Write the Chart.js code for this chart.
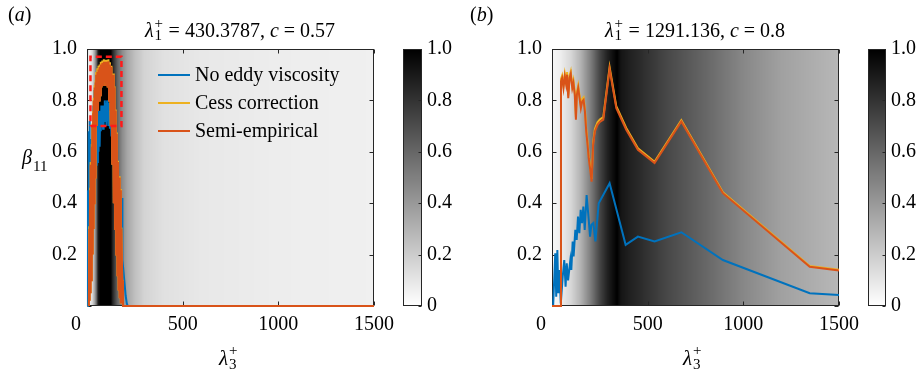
<!DOCTYPE html>
<html lang="en">
<head>
<meta charset="UTF-8">
<style>
    * { margin: 0; padding: 0; box-sizing: border-box; }
    body {
        background: #fff;
        width: 921px;
        height: 378px;
        overflow: hidden;
        position: relative;
        font-family: "Liberation Serif", Tinos, "Times New Roman", "Nimbus Roman", "DejaVu Serif", serif;
        color: #000;
    }
    canvas { position: absolute; left: 0; top: 0; }
    .txt { position: absolute; white-space: nowrap; font-size: 20px; line-height: 20px; }
    .ss { position: relative; display: inline-block; width: 10px; height: 0; }
    .ss span { position: absolute; left: 1px; font-size: 15px; line-height: 15px; font-style: normal; }
    .legend { position: absolute; left: 158px; top: 0; font-size: 20px; line-height: 20px; }
    .legend div { position: absolute; left: 0; white-space: nowrap; }
    .legend i { display: inline-block; width: 32px; height: 2px; vertical-align: middle; margin-right: 5px; position: relative; top: -1px; }
</style>
</head>
<body>
    <canvas id="chartA" width="921" height="378"></canvas>
    <canvas id="barA" width="921" height="378"></canvas>
    <canvas id="chartB" width="921" height="378"></canvas>
    <canvas id="barB" width="921" height="378"></canvas>

    <!-- titles and labels -->
    <div class="txt" style="left:8px; top:4px">(<i>a</i>)</div>
    <div class="txt" style="left:470px; top:4px">(<i>b</i>)</div>

    <div class="txt" style="left:240px; top:20px; transform:translateX(-50%)"><i>λ</i><span class="ss"><span style="top:-21px">+</span><span style="top:-9px">1</span></span> = 430.3787, <i>c</i> = 0.57</div>
    <div class="txt" style="left:695px; top:20px; transform:translateX(-50%)"><i>λ</i><span class="ss"><span style="top:-21px">+</span><span style="top:-9px">1</span></span> = 1291.136, <i>c</i> = 0.8</div>

    <div class="txt" style="left:22px; top:147px"><i>β</i><span class="ss" style="width:20px"><span style="top:-5px; left:1px">11</span></span></div>

    <div class="txt" style="left:219px; top:348px; font-size:21px"><i>λ</i><span class="ss"><span style="top:-22px">+</span><span style="top:-8px">3</span></span></div>
    <div class="txt" style="left:683px; top:348px; font-size:21px"><i>λ</i><span class="ss"><span style="top:-22px">+</span><span style="top:-8px">3</span></span></div>

    <div class="legend">
        <div style="top:64px"><i style="background:#0072BD"></i>No eddy viscosity</div>
        <div style="top:92px"><i style="background:#EDB120"></i>Cess correction</div>
        <div style="top:120px"><i style="background:#D95319"></i>Semi-empirical</div>
    </div>

    <script src="https://cdn.jsdelivr.net/npm/chart.js@4.4.1/dist/chart.umd.min.js"></script>
    <script>
        // axes
        const xTicks = [0, 500, 1000, 1500];
        const yTicks = [0, 0.2, 0.4, 0.6, 0.8, 1.0];
        const yLabels = ['', '0.2', '0.4', '0.6', '0.8', '1.0'];
        const cbTicks = [0, 0.2, 0.4, 0.6, 0.8, 1.0];
        const cbLabels = ['0', '0.2', '0.4', '0.6', '0.8', '1.0'];

        // panel (a): λ1+ = 430.3787, c = 0.57
        const aBlueLam = [3, 5, 7, 9, 11, 13, 15, 17, 19, 21, 24, 27, 30, 33, 36, 39, 42, 45, 48, 51, 54, 57, 60, 63, 66, 69, 72, 75, 78, 81, 84, 87, 90, 93, 96, 99, 102, 105, 108, 111, 114, 117, 120, 124, 128, 132, 136, 140, 144, 148, 152, 156, 160, 164, 168, 172, 176, 180, 183, 185, 190, 196, 202, 208, 213, 1500];
        const aBlue = [0, 0.45, 0.15, 0.68, 0.30, 0.72, 0.40, 0.60, 0.35, 0.65, 0.50, 0.70, 0.55, 0.78, 0.60, 0.84, 0.62, 0.80, 0.55, 0.62, 0.56, 0.70, 0.60, 0.76, 0.62, 0.75, 0.68, 0.78, 0.70, 0.77, 0.69, 0.78, 0.72, 0.80, 0.73, 0.79, 0.70, 0.80, 0.72, 0.79, 0.70, 0.76, 0.69, 0.74, 0.66, 0.70, 0.62, 0.64, 0.56, 0.52, 0.45, 0.38, 0.33, 0.29, 0.27, 0.25, 0.22, 0.20, 0.42, 0.18, 0.14, 0.09, 0.04, 0.01, 0, 0];
        const aLam = [10, 12, 14, 16, 18, 20, 22, 24, 26, 28, 30, 32, 34, 36, 38, 40, 42, 44, 46, 48, 51, 54, 57, 60, 63, 66, 69, 72, 76, 80, 84, 88, 92, 96, 100, 104, 108, 112, 116, 120, 124, 128, 132, 136, 140, 144, 147, 150, 153, 156, 159, 162, 165, 168, 171, 174, 177, 180, 184, 188, 1500];
        const aCess = [0, 0.31, 0.02, 0.46, 0.05, 0.56, 0.10, 0.63, 0.15, 0.71, 0.20, 0.76, 0.30, 0.81, 0.40, 0.86, 0.50, 0.88, 0.60, 0.91, 0.70, 0.925, 0.76, 0.935, 0.80, 0.94, 0.82, 0.95, 0.85, 0.955, 0.86, 0.96, 0.87, 0.958, 0.86, 0.958, 0.85, 0.96, 0.80, 0.948, 0.70, 0.935, 0.55, 0.905, 0.40, 0.855, 0.30, 0.765, 0.20, 0.675, 0.12, 0.565, 0.06, 0.505, 0.03, 0.455, 0.01, 0.305, 0.10, 0, 0];
        const aSemi = [0, 0.30, 0.02, 0.45, 0.05, 0.55, 0.10, 0.62, 0.15, 0.70, 0.20, 0.75, 0.30, 0.80, 0.40, 0.85, 0.50, 0.87, 0.60, 0.90, 0.70, 0.91, 0.76, 0.92, 0.80, 0.93, 0.82, 0.94, 0.85, 0.945, 0.86, 0.95, 0.87, 0.95, 0.86, 0.95, 0.85, 0.952, 0.80, 0.94, 0.70, 0.93, 0.55, 0.90, 0.40, 0.85, 0.30, 0.76, 0.20, 0.67, 0.12, 0.56, 0.06, 0.50, 0.03, 0.45, 0.01, 0.30, 0.10, 0, 0];
        const aBoxLam = [18, 180, 180, 18, 18];
        const aBoxBeta = [0.70, 0.70, 0.97, 0.97, 0.70];
        const aBgLam = [0, 5, 14, 28, 40, 50, 58, 70, 125, 135, 160, 185, 210, 250, 300, 400, 600, 1000, 1500];
        const aBgVal = [0.20, 0.10, 0.05, 0.15, 0.35, 0.60, 0.90, 1.00, 1.00, 0.85, 0.60, 0.45, 0.35, 0.25, 0.17, 0.12, 0.09, 0.07, 0.06];

        // panel (b): λ1+ = 1291.136, c = 0.8
        const bBlueLam = [6, 17, 22, 28, 33, 39, 46, 56, 64, 71, 77, 84, 96, 101, 108, 113, 122, 129, 136, 143, 150, 157, 164, 171, 181, 192, 199, 206, 216, 227, 244, 301, 385, 449, 536, 676, 893, 1347, 1500];
        const bBlue = [0, 0.205, 0.036, 0.218, 0.05, 0.14, 0.01, 0.114, 0.179, 0.075, 0.166, 0.10, 0.179, 0.14, 0.251, 0.193, 0.296, 0.257, 0.348, 0.283, 0.374, 0.322, 0.387, 0.296, 0.432, 0.335, 0.27, 0.316, 0.323, 0.251, 0.40, 0.478, 0.238, 0.27, 0.251, 0.287, 0.179, 0.05, 0.043];
        const bLam = [0, 20, 46, 47, 53, 60, 67, 74, 79, 85, 92, 98, 106, 112, 119, 125, 130, 137, 144, 151, 158, 165, 172, 179, 186, 192, 200, 207, 215, 224, 238, 250, 268, 301, 336, 388, 449, 536, 676, 893, 1347, 1500];
        const bCess = [0, 0, 0, 0.884, 0.897, 0.858, 0.903, 0.871, 0.91, 0.819, 0.897, 0.913, 0.858, 0.878, 0.832, 0.735, 0.832, 0.858, 0.819, 0.78, 0.806, 0.812, 0.767, 0.689, 0.637, 0.585, 0.54, 0.494, 0.637, 0.689, 0.715, 0.726, 0.735, 0.93, 0.778, 0.693, 0.614, 0.561, 0.723, 0.443, 0.156, 0.141];
        const bSemi = [0, 0, 0, 0.874, 0.887, 0.848, 0.893, 0.861, 0.90, 0.809, 0.887, 0.903, 0.848, 0.868, 0.822, 0.725, 0.822, 0.848, 0.809, 0.77, 0.796, 0.802, 0.757, 0.679, 0.627, 0.575, 0.53, 0.484, 0.627, 0.679, 0.705, 0.716, 0.725, 0.922, 0.77, 0.686, 0.608, 0.556, 0.718, 0.439, 0.153, 0.138];
        const bBgLam = [0, 40, 100, 150, 200, 250, 290, 320, 340, 360, 400, 500, 600, 800, 1000, 1200, 1500];
        const bBgVal = [0.03, 0.06, 0.16, 0.30, 0.50, 0.73, 0.87, 0.95, 1.00, 0.92, 0.88, 0.80, 0.72, 0.60, 0.47, 0.37, 0.28];

        const W = 921, H = 378;
        const FONT = '20px "Liberation Serif", Tinos, "Times New Roman", "Nimbus Roman", "DejaVu Serif", serif';

        function pts(xs, ys) {
            return xs.map((x, i) => ({ x: x, y: ys[i] }));
        }

        function interp(xs, vs, x) {
            if (x <= xs[0]) return vs[0];
            for (let i = 1; i < xs.length; i++) {
                if (x <= xs[i]) {
                    const t = (x - xs[i - 1]) / (xs[i] - xs[i - 1]);
                    return vs[i - 1] + t * (vs[i] - vs[i - 1]);
                }
            }
            return vs[vs.length - 1];
        }

        function grayOf(v) {
            const g = Math.round(255 * (1 - Math.max(0, Math.min(1, v))));
            return 'rgb(' + g + ',' + g + ',' + g + ')';
        }

        // heat background, box, inward ticks and tick labels
        const frame = {
            id: 'frame',
            beforeDatasetsDraw(chart, args, o) {
                const ctx = chart.ctx, a = chart.chartArea;
                const x = chart.scales.x, y = chart.scales.y;
                ctx.save();
                if (o.bar) {
                    for (let py = Math.floor(a.top); py < a.bottom; py++) {
                        ctx.fillStyle = grayOf(y.getValueForPixel(py + 0.5));
                        ctx.fillRect(a.left, py, a.right - a.left, 1);
                    }
                } else {
                    for (let px = Math.floor(a.left); px < a.right; px++) {
                        ctx.fillStyle = grayOf(interp(o.bgLam, o.bgVal, x.getValueForPixel(px + 0.5)));
                        ctx.fillRect(px, a.top, 1, a.bottom - a.top);
                    }
                }

                const l = Math.round(a.left) + 0.5, r = Math.round(a.right) - 0.5;
                const t = Math.round(a.top) + 0.5, b = Math.round(a.bottom) - 0.5;
                ctx.strokeStyle = '#262626';
                ctx.lineWidth = 1;
                ctx.strokeRect(l, t, r - l, b - t);

                ctx.beginPath();
                if (!o.bar) {
                    x.ticks.forEach(tk => {
                        const p = Math.round(x.getPixelForValue(tk.value)) + 0.5;
                        ctx.moveTo(p, b); ctx.lineTo(p, b - 4);
                        ctx.moveTo(p, t); ctx.lineTo(p, t + 4);
                    });
                }
                y.ticks.forEach(tk => {
                    const p = Math.round(y.getPixelForValue(tk.value)) + 0.5;
                    if (!o.bar) { ctx.moveTo(l, p); ctx.lineTo(l + 4, p); }
                    ctx.moveTo(r, p); ctx.lineTo(r - (o.bar ? 3 : 4), p);
                });
                ctx.stroke();

                ctx.fillStyle = '#000';
                ctx.font = FONT;
                if (!o.bar) {
                    ctx.textAlign = 'center';
                    ctx.textBaseline = 'alphabetic';
                    x.ticks.forEach(tk => {
                        const p = x.getPixelForValue(tk.value) + (tk.value === 0 ? o.zeroShift : 0);
                        ctx.fillText(tk.label, p, a.bottom + 24);
                    });
                    ctx.textAlign = 'right';
                    ctx.textBaseline = 'middle';
                    y.ticks.forEach(tk => ctx.fillText(tk.label, a.left - 10, y.getPixelForValue(tk.value)));
                } else {
                    ctx.textAlign = 'left';
                    ctx.textBaseline = 'middle';
                    y.ticks.forEach(tk => ctx.fillText(tk.label, a.right + 5, y.getPixelForValue(tk.value)));
                }
                ctx.restore();
            }
        };

        function line(data, color, order) {
            return {
                data: data, borderColor: color, borderWidth: 2,
                pointRadius: 0, fill: false, tension: 0, order: order, clip: 4
            };
        }

        function panel(id, area, datasets, bgLam, bgVal) {
            return new Chart(document.getElementById(id), {
                type: 'line',
                data: { datasets: datasets },
                plugins: [frame],
                options: {
                    responsive: false,
                    animation: false,
                    events: [],
                    layout: { padding: { left: area[0], top: area[1], right: W - area[2], bottom: H - area[3] } },
                    plugins: {
                        legend: { display: false },
                        tooltip: { enabled: false },
                        frame: { bgLam: bgLam, bgVal: bgVal, zeroShift: -11 }
                    },
                    scales: {
                        x: {
                            type: 'linear', display: false, min: 0, max: 1500,
                            afterBuildTicks: s => { s.ticks = xTicks.map(v => ({ value: v })); },
                            ticks: { callback: v => String(v) }
                        },
                        y: {
                            type: 'linear', display: false, min: 0, max: 1,
                            afterBuildTicks: s => { s.ticks = yTicks.map(v => ({ value: v })); },
                            ticks: { callback: (v, i) => yLabels[i] }
                        }
                    }
                }
            });
        }

        function colorbar(id, area) {
            return new Chart(document.getElementById(id), {
                type: 'line',
                data: { datasets: [] },
                plugins: [frame],
                options: {
                    responsive: false,
                    animation: false,
                    events: [],
                    layout: { padding: { left: area[0], top: area[1], right: W - area[2], bottom: H - area[3] } },
                    plugins: { legend: { display: false }, tooltip: { enabled: false }, frame: { bar: true } },
                    scales: {
                        x: { type: 'linear', display: false, min: 0, max: 1 },
                        y: {
                            type: 'linear', display: false, min: 0, max: 1,
                            afterBuildTicks: s => { s.ticks = cbTicks.map(v => ({ value: v })); },
                            ticks: { callback: (v, i) => cbLabels[i] }
                        }
                    }
                }
            });
        }

        panel('chartA', [87, 49, 374, 306], [
            line(pts(aBlueLam, aBlue), '#0072BD', 3),
            line(pts(aLam, aCess), '#EDB120', 2),
            line(pts(aLam, aSemi), '#D95319', 1),
            Object.assign(line(pts(aBoxLam, aBoxBeta), '#FF1A1A', 0), { borderWidth: 2.5, borderDash: [6, 4] })
        ], aBgLam, aBgVal);

        panel('chartB', [552, 49, 839, 306], [
            line(pts(bBlueLam, bBlue), '#0072BD', 3),
            line(pts(bLam, bCess), '#EDB120', 2),
            line(pts(bLam, bSemi), '#D95319', 1)
        ], bBgLam, bBgVal);

        colorbar('barA', [403, 49, 422, 306]);
        colorbar('barB', [868, 49, 886, 306]);
    </script>
</body>
</html>
